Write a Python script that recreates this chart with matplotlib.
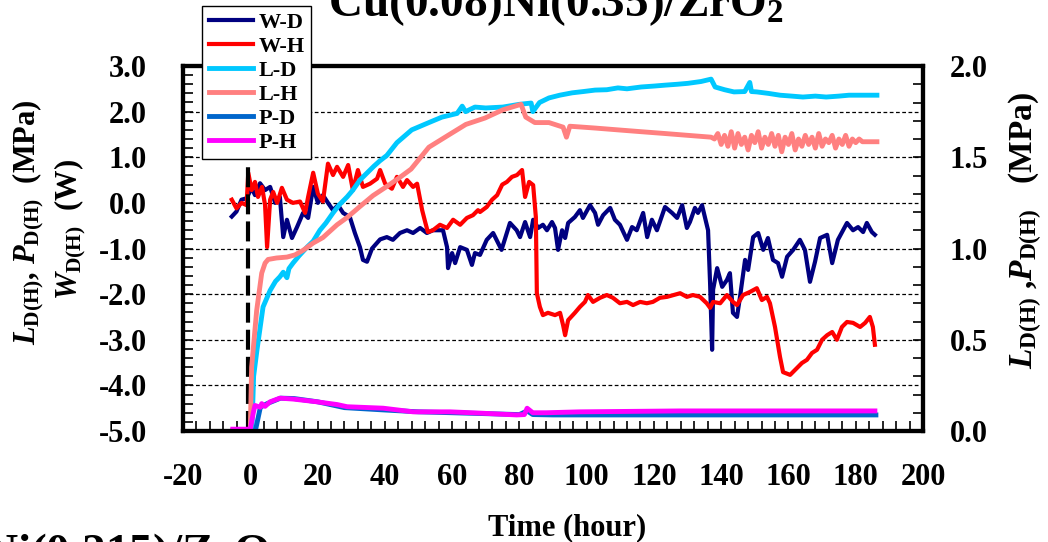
import numpy as np
import matplotlib.pyplot as plt
from matplotlib.ticker import MultipleLocator, FormatStrFormatter

plt.rcParams['font.family'] = ['Liberation Serif', 'DejaVu Serif']
plt.rcParams['font.weight'] = 'bold'
plt.rcParams['mathtext.fontset'] = 'custom'
plt.rcParams['mathtext.rm'] = 'Liberation Serif:bold'
plt.rcParams['mathtext.it'] = 'Liberation Serif:italic:bold'
plt.rcParams['mathtext.bf'] = 'Liberation Serif:bold'
plt.rcParams['axes.unicode_minus'] = False

# ---- data : [time (hour), value] ----
# excess heat W (W), left axis
w_d = np.array([
    [-5.5, -0.30], [-4.1, -0.19], [-2.6, 0.07], [-1.1, 0.10], [0.4, 0.33], [1.4, 0.17],
    [2.9, 0.43], [4.4, 0.28], [5.9, 0.35], [7.4, 0.00], [8.8, 0.13], [9.8, -0.75],
    [10.9, -0.37], [12.4, -0.77], [13.9, -0.53], [15.7, -0.22], [17.2, -0.33], [18.7, 0.35],
    [20.1, 0.00], [21.6, 0.17], [23.1, 0.00], [24.6, -0.16], [26.1, -0.05], [27.6, -0.22],
    [29.6, -0.31], [31.1, -0.66], [32.6, -0.97], [33.5, -1.25], [34.7, -1.29], [36.2, -1.00],
    [38.6, -0.80], [40.6, -0.75], [42.4, -0.81], [44.5, -0.66], [46.6, -0.60], [48.4, -0.66],
    [50.5, -0.55], [52.5, -0.66], [54.3, -0.60], [57.3, -0.60], [58.5, -0.97], [58.8, -1.43],
    [60.0, -1.10], [60.9, -1.32], [62.4, -0.97], [64.4, -1.03], [65.9, -1.36], [66.8, -1.10],
    [68.3, -1.14], [70.3, -0.81], [72.2, -0.66], [74.7, -1.03], [77.2, -0.44], [79.2, -0.60],
    [80.2, -0.75], [81.7, -0.42], [83.2, -0.75], [84.1, -0.37], [85.6, -0.55], [87.0, -0.48],
    [88.2, -0.60], [89.7, -0.42], [90.6, -0.55], [91.5, -1.03], [92.7, -0.60], [93.6, -0.77],
    [94.5, -0.44], [96.5, -0.31], [98.0, -0.16], [98.9, -0.33], [101.0, -0.05], [102.5, -0.22],
    [103.4, -0.48], [104.9, -0.27], [107.0, -0.11], [108.4, -0.37], [109.9, -0.48], [112.0, -0.81],
    [113.5, -0.53], [114.9, -0.60], [116.8, -0.22], [118.0, -0.75], [119.4, -0.37], [120.9, -0.60],
    [123.3, -0.09], [125.4, -0.22], [126.9, -0.33], [128.4, -0.05], [129.8, -0.55], [130.7, -0.42],
    [132.2, -0.11], [133.1, -0.22], [134.3, -0.05], [136.1, -0.60], [136.7, -1.76], [137.3, -3.22],
    [137.6, -1.90], [138.8, -1.43], [140.3, -1.84], [141.7, -1.69], [142.6, -1.54], [143.5, -2.41],
    [144.7, -2.50], [145.6, -2.06], [147.1, -1.25], [148.0, -1.47], [149.5, -0.75], [151.0, -0.66],
    [152.5, -1.03], [153.9, -0.77], [155.4, -1.25], [156.9, -1.32], [158.1, -1.62], [159.6, -1.18],
    [161.4, -1.03], [163.4, -0.81], [164.9, -1.03], [166.4, -1.73], [167.9, -1.29], [169.4, -0.77],
    [171.5, -0.70], [173.0, -1.32], [174.7, -0.81], [177.4, -0.44], [179.2, -0.60], [180.7, -0.53],
    [182.2, -0.64], [183.3, -0.44], [184.8, -0.64], [185.7, -0.70]])

w_h = np.array([
    [-5.5, 0.07], [-4.1, -0.12], [-2.6, 0.00], [-1.1, -0.05], [-0.6, 0.66], [0.4, 0.28],
    [1.4, 0.46], [2.3, 0.13], [3.5, 0.35], [4.4, -0.05], [5.0, -0.97], [5.9, 0.07],
    [6.8, 0.24], [8.0, 0.00], [9.4, 0.33], [10.9, 0.07], [12.7, 0.00], [14.8, 0.03],
    [16.3, -0.22], [17.2, 0.13], [18.7, 0.66], [20.1, 0.20], [21.6, 0.03], [23.1, 0.86],
    [24.6, 0.61], [25.8, 0.79], [27.6, 0.57], [29.1, 0.83], [30.5, 0.28], [32.0, 0.72],
    [33.5, 0.35], [35.6, 0.42], [37.7, 0.53], [38.6, 0.72], [40.1, 0.42], [42.1, 0.31],
    [43.6, 0.57], [45.4, 0.35], [46.6, 0.50], [48.4, 0.35], [49.6, 0.42], [51.1, -0.16],
    [52.0, -0.42], [52.8, -0.64], [54.3, -0.60], [56.4, -0.48], [58.5, -0.55], [60.3, -0.37],
    [62.4, -0.48], [64.4, -0.33], [66.2, -0.27], [67.7, -0.16], [68.3, -0.20], [70.3, -0.09],
    [71.9, 0.07], [73.4, 0.17], [74.9, 0.40], [76.3, 0.46], [77.8, 0.57], [79.3, 0.61],
    [80.8, 0.72], [81.7, 0.13], [82.9, 0.46], [84.1, 0.39], [84.9, -0.31], [85.2, -1.98],
    [86.1, -2.28], [87.0, -2.46], [88.5, -2.41], [90.6, -2.46], [92.1, -2.41], [93.0, -2.68],
    [93.6, -2.90], [94.5, -2.57], [96.5, -2.41], [98.0, -2.28], [99.5, -2.17], [100.4, -2.02],
    [101.9, -2.17], [104.0, -2.08], [106.0, -2.02], [107.8, -2.08], [109.9, -2.20], [112.0, -2.17],
    [113.8, -2.24], [115.9, -2.17], [117.9, -2.20], [119.7, -2.17], [121.8, -2.08], [123.9, -2.06],
    [125.8, -2.02], [127.8, -1.98], [129.8, -2.06], [131.6, -2.02], [133.7, -2.06], [135.7, -2.20],
    [136.7, -2.30], [137.6, -2.17], [139.7, -2.20], [141.7, -2.02], [143.5, -2.17], [144.7, -2.24],
    [146.5, -2.02], [148.6, -1.95], [150.6, -1.87], [152.1, -2.13], [153.6, -2.06], [154.5, -2.20],
    [156.0, -2.72], [157.5, -3.38], [158.4, -3.71], [160.5, -3.77], [162.5, -3.62], [164.0, -3.51],
    [165.5, -3.44], [167.0, -3.29], [168.5, -3.22], [170.0, -3.00], [171.5, -2.90], [173.0, -2.83],
    [174.4, -3.00], [175.9, -2.72], [177.4, -2.61], [179.2, -2.63], [181.3, -2.72], [182.8, -2.63],
    [184.2, -2.50], [185.1, -2.72], [185.7, -3.11]])

# loading L (MPa), right axis
l_d = np.array([
    [-5.2, 0.00], [0.5, 0.01], [1.0, 0.30], [2.0, 0.445], [3.8, 0.68], [5.9, 0.77],
    [7.5, 0.82], [8.8, 0.845], [9.8, 0.87], [10.9, 0.84], [11.5, 0.89], [12.7, 0.92],
    [14.5, 0.96], [16.9, 1.008], [18.7, 1.04], [20.7, 1.10], [22.5, 1.14], [24.6, 1.195],
    [26.5, 1.24], [28.8, 1.283], [30.5, 1.32], [32.6, 1.375], [34.5, 1.41], [36.7, 1.45],
    [38.5, 1.48], [40.6, 1.51], [43.6, 1.58], [48.0, 1.65], [53.1, 1.69], [57.0, 1.72],
    [61.5, 1.74], [63.0, 1.78], [64.0, 1.75], [66.8, 1.775], [70.0, 1.77], [75.1, 1.775],
    [80.0, 1.79], [83.5, 1.797], [84.0, 1.75], [86.0, 1.80], [88.8, 1.825], [92.0, 1.84],
    [95.7, 1.853], [99.0, 1.86], [102.5, 1.868], [106.0, 1.87], [109.3, 1.88], [112.0, 1.875],
    [116.2, 1.885], [120.0, 1.89], [123.3, 1.895], [127.0, 1.90], [130.1, 1.905], [134.0, 1.915],
    [137.0, 1.928], [138.2, 1.885], [141.0, 1.87], [143.8, 1.858], [147.0, 1.86], [148.5, 1.91],
    [149.0, 1.86], [150.6, 1.858], [154.0, 1.85], [157.5, 1.84], [161.0, 1.835], [164.3, 1.83],
    [168.0, 1.835], [171.2, 1.83], [175.0, 1.835], [178.0, 1.84], [182.0, 1.84], [186.3, 1.84]])

l_h = np.array([
    [-5.2, 0.00], [0.0, 0.00], [0.4, 0.35], [1.9, 0.66], [3.4, 0.865], [4.4, 0.92],
    [5.3, 0.94], [7.8, 0.948], [10.9, 0.953], [13.3, 0.965], [15.7, 0.99], [18.7, 1.03],
    [21.6, 1.06], [25.8, 1.13], [28.8, 1.17], [32.6, 1.23], [36.5, 1.29], [40.6, 1.34],
    [44.5, 1.39], [47.8, 1.435], [53.1, 1.555], [58.8, 1.62], [64.1, 1.68], [69.8, 1.715],
    [75.1, 1.76], [80.5, 1.79], [81.9, 1.72], [84.6, 1.69], [88.8, 1.69], [93.0, 1.665],
    [94.0, 1.61], [95.0, 1.67], [102.5, 1.66], [109.3, 1.65], [116.2, 1.64], [123.3, 1.63],
    [130.1, 1.62], [137.0, 1.61], [138.0, 1.60], [139.0, 1.63], [140.0, 1.57], [141.0, 1.62],
    [142.0, 1.56], [143.0, 1.64], [144.0, 1.55], [145.0, 1.63], [146.0, 1.57], [147.0, 1.61],
    [148.0, 1.54], [149.0, 1.62], [150.0, 1.58], [151.0, 1.64], [152.0, 1.55], [153.0, 1.61],
    [154.0, 1.57], [155.0, 1.63], [156.0, 1.56], [157.0, 1.62], [158.0, 1.53], [159.0, 1.61],
    [160.0, 1.57], [161.0, 1.63], [162.0, 1.54], [163.0, 1.60], [164.0, 1.56], [165.0, 1.62],
    [166.0, 1.57], [167.0, 1.61], [168.0, 1.55], [169.0, 1.63], [170.0, 1.56], [171.0, 1.60],
    [172.0, 1.58], [173.0, 1.62], [174.0, 1.55], [175.0, 1.60], [176.0, 1.57], [177.0, 1.62],
    [178.0, 1.56], [179.0, 1.60], [180.0, 1.58], [181.0, 1.60], [182.0, 1.585], [186.3, 1.585]])

# pressure P (MPa), right axis
p_d = np.array([
    [-5.2, 0.00], [1.5, 0.00], [3.0, 0.13], [5.0, 0.15], [9.0, 0.18], [13.0, 0.178],
    [20.0, 0.16], [28.0, 0.128], [40.0, 0.115], [50.0, 0.105], [60.0, 0.10], [70.0, 0.095],
    [80.0, 0.09], [82.3, 0.11], [84.0, 0.09], [90.0, 0.088], [128.0, 0.088], [186.0, 0.088]])

p_h = np.array([
    [-5.2, 0.01], [0.0, 0.01], [0.9, 0.10], [1.4, 0.14], [3.0, 0.13], [3.4, 0.15],
    [4.4, 0.135], [5.9, 0.16], [8.8, 0.18], [12.7, 0.175], [19.8, 0.16], [25.8, 0.145],
    [28.8, 0.133], [39.5, 0.125], [48.4, 0.105], [59.4, 0.105], [68.3, 0.098], [79.2, 0.088],
    [81.5, 0.09], [82.3, 0.125], [84.0, 0.10], [88.0, 0.10], [98.0, 0.105], [127.8, 0.11],
    [157.5, 0.11], [185.7, 0.11]])

start_time = -0.6      # gas introduction
start_mark_top = 0.9

fig = plt.figure(figsize=(10.48, 5.42), dpi=100)
ax = fig.add_axes([183 / 1048, 111 / 542, 740 / 1048, 365 / 542])
ax2 = ax.twinx()

ax.plot(w_d[:, 0], w_d[:, 1], color='#000080', lw=3, label='W-D')
ax.plot(w_h[:, 0], w_h[:, 1], color='#ff0000', lw=3, label='W-H')
ax2.plot(l_d[:, 0], l_d[:, 1], color='#00c8ff', lw=3.5, label='L-D')
ax2.plot(l_h[:, 0], l_h[:, 1], color='#ff8080', lw=3.5, label='L-H')
ax2.plot(p_d[:, 0], p_d[:, 1], color='#0066cc', lw=3.5, label='P-D')
ax2.plot(p_h[:, 0], p_h[:, 1], color='#ff00ff', lw=3.5, label='P-H')

ax.plot([start_time, start_time], [-5, start_mark_top], color='k', lw=3,
        ls=(0, (4.8, 1.7)))

ax.set_xlim(-20, 200)
ax.set_ylim(-5, 3)
ax2.set_ylim(0, 2)

ax.xaxis.set_major_locator(MultipleLocator(20))
ax.xaxis.set_minor_locator(MultipleLocator(4))
ax.yaxis.set_major_locator(MultipleLocator(1))
ax.yaxis.set_minor_locator(MultipleLocator(0.2))
ax.yaxis.set_major_formatter(FormatStrFormatter('%.1f'))
ax2.yaxis.set_major_locator(MultipleLocator(0.5))
ax2.yaxis.set_minor_locator(MultipleLocator(0.1))
ax2.yaxis.set_major_formatter(FormatStrFormatter('%.1f'))

ax.tick_params(which='both', direction='in', length=7, width=1.2, labelsize=22,
               top=False, right=False)
ax.tick_params(axis='y', pad=26)
ax.tick_params(axis='x', pad=23)
ax2.tick_params(which='both', direction='in', length=7, width=1.2, labelsize=22, pad=19)

ax.grid(axis='y', which='major', color='k', lw=0.9, ls=(0, (3, 2)))
for a in (ax, ax2):
    for s in a.spines.values():
        s.set_linewidth(3)

# axis titles
fig.text(28 / 1048, 0.590, r'$L_{\mathrm{D(H)}}$, $P_{\mathrm{D(H)}}$  (MPa)',
         rotation=90, ha='center', va='center', fontsize=22)
fig.text(70 / 1048, 0.576, r'$W_{\mathrm{D(H)}}$  (W)',
         rotation=90, ha='center', va='center', fontsize=22)
fig.text(1025 / 1048, 0.574, r'$L_{\mathrm{D(H)}}$ ,$P_{\mathrm{D(H)}}$   (MPa)',
         rotation=90, ha='center', va='center', fontsize=24)
fig.text(567 / 1048, 1 - 535 / 542, 'Time (hour)', ha='center', va='baseline', fontsize=22)

fig.text(556 / 1048, 1 - 16 / 542, r'Cu(0.08)Ni(0.35)/ZrO$_2$', ha='center',
         va='baseline', fontsize=34)
fig.text(-17 / 1048, -24 / 542, r'Ni(0.215)/ZrO$_2$', ha='left', va='baseline', fontsize=34)

h1, l1 = ax.get_legend_handles_labels()
h2, l2 = ax2.get_legend_handles_labels()
leg = fig.legend(h1 + h2, l1 + l2, loc='upper left', bbox_to_anchor=(202 / 1048, 1 - 6 / 542),
                 frameon=True, fancybox=False, edgecolor='k', framealpha=1, fontsize=16,
                 handlelength=2.0, handletextpad=0.25, labelspacing=0.15, borderpad=0.3,
                 borderaxespad=0)
leg.get_frame().set_linewidth(1.0)

fig.savefig('out.png', dpi=100)
